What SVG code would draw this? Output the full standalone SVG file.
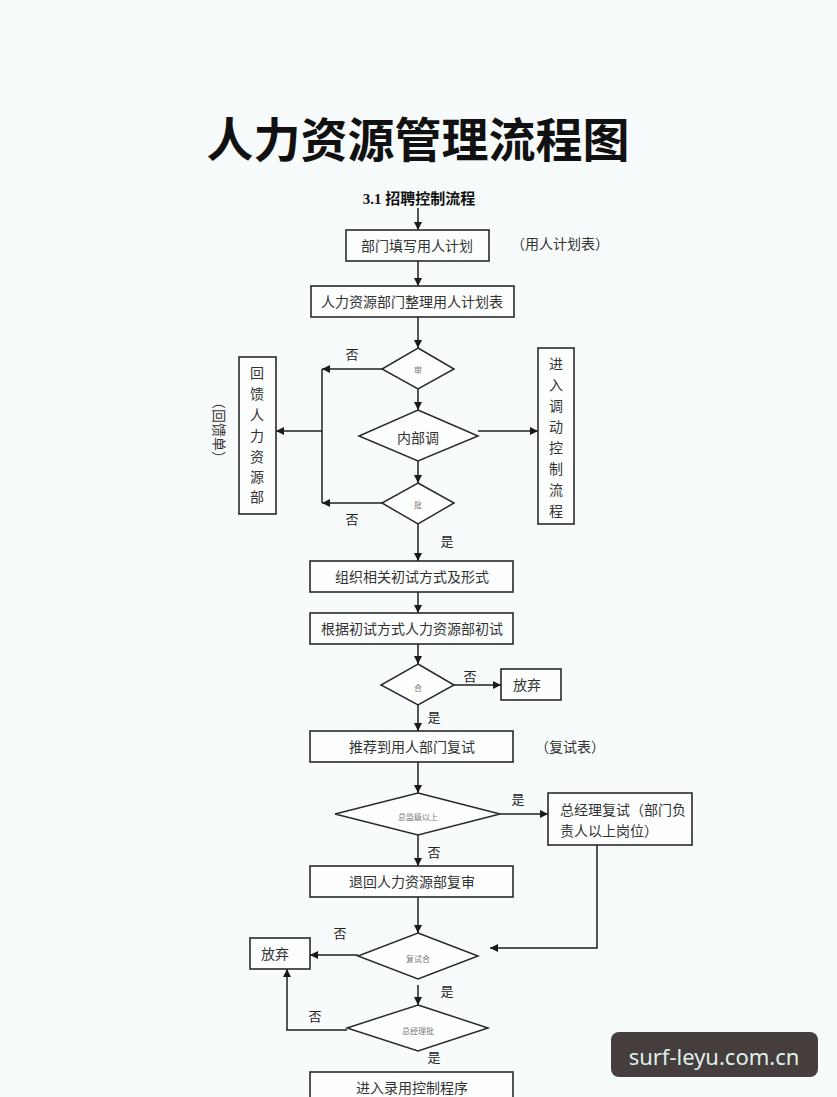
<svg xmlns="http://www.w3.org/2000/svg" width="837" height="1097" viewBox="0 0 837 1097">
<defs>
<marker id="ah" viewBox="0 0 10 10" refX="10" refY="5" markerWidth="8" markerHeight="8" markerUnits="userSpaceOnUse" orient="auto">
<path d="M0,0 L10,5 L0,10 z" fill="#1a1a1a"/>
</marker>
<style>
.bx{fill:#fdfefe;stroke:#2a2a2a;stroke-width:1.6}
.dm{fill:#fdfefe;stroke:#2a2a2a;stroke-width:1.5}
.ln{fill:none;stroke:#1f1f1f;stroke-width:1.5}
.ar{fill:none;stroke:#1f1f1f;stroke-width:1.5;marker-end:url(#ah)}
.t{font-family:"Liberation Serif","Noto Sans CJK SC",serif;font-size:14px;fill:#333;text-anchor:middle;dominant-baseline:central}
.ts{font-family:"Liberation Serif","Noto Sans CJK SC",serif;font-size:14px;fill:#333;text-anchor:start;dominant-baseline:central}
.s{font-family:"Noto Sans CJK SC",sans-serif;font-size:8px;fill:#777;text-anchor:middle;dominant-baseline:central}
.l{font-family:"Noto Sans CJK SC",serif;font-size:13px;fill:#222;text-anchor:middle;dominant-baseline:central}
</style>
</defs>
<rect width="837" height="1097" fill="#f8fbfb"/>
<g id="title">
<text x="418" y="136" font-family="Noto Sans CJK SC, sans-serif" font-weight="bold" font-size="47" fill="#111" text-anchor="middle" dominant-baseline="central">人力资源管理流程图</text>
<text x="419" y="199" font-family="Liberation Serif, Noto Sans CJK SC, serif" font-weight="bold" font-size="15" fill="#111" text-anchor="middle" dominant-baseline="central">3.1 招聘控制流程</text>
</g>
<g id="connectors">
<line class="ar" x1="418" y1="208" x2="418" y2="230"/>
<line class="ar" x1="418" y1="261" x2="418" y2="286"/>
<line class="ar" x1="418" y1="317" x2="418" y2="348"/>
<line class="ar" x1="382" y1="369" x2="322" y2="369"/>
<line class="ln" x1="322" y1="369" x2="322" y2="503"/>
<line class="ar" x1="382" y1="503" x2="322" y2="503"/>
<line class="ar" x1="322" y1="431" x2="276" y2="431"/>
<line class="ar" x1="418" y1="389" x2="418" y2="410"/>
<line class="ar" x1="478" y1="431" x2="538" y2="431"/>
<line class="ar" x1="418" y1="461" x2="418" y2="483"/>
<line class="ar" x1="418" y1="524" x2="418" y2="561"/>
<line class="ar" x1="418" y1="592" x2="418" y2="613"/>
<line class="ar" x1="418" y1="644" x2="418" y2="664"/>
<line class="ar" x1="454" y1="685" x2="501" y2="685"/>
<line class="ar" x1="418" y1="705" x2="418" y2="731"/>
<line class="ar" x1="418" y1="762" x2="418" y2="793"/>
<line class="ar" x1="500" y1="814" x2="548" y2="814"/>
<polyline class="ar" points="597,845 597,948 490,948"/>
<line class="ar" x1="418" y1="835" x2="418" y2="866"/>
<line class="ar" x1="418" y1="897" x2="418" y2="933"/>
<line class="ar" x1="358" y1="955" x2="310" y2="955"/>
<line class="ar" x1="418" y1="985" x2="418" y2="1005"/>
<polyline class="ar" points="347,1030 287,1030 287,969"/>
<text class="l" x="352" y="353">否</text>
<text class="l" x="352" y="518">否</text>
<text class="l" x="447" y="540">是</text>
<text class="l" x="470" y="675">否</text>
<text class="l" x="434" y="716">是</text>
<text class="l" x="518" y="798">是</text>
<text class="l" x="434" y="851">否</text>
<text class="l" x="340" y="932">否</text>
<text class="l" x="447" y="990">是</text>
<text class="l" x="315" y="1015">否</text>
<text class="l" x="434" y="1056">是</text>
</g>
<g id="n1"><rect class="bx" x="346" y="230" width="143" height="31"/><text class="t" x="417" y="246">部门填写用人计划</text></g>
<g id="n1note"><text class="t" x="560" y="244">（用人计划表）</text></g>
<g id="n2"><rect class="bx" x="311" y="286" width="203" height="31"/><text class="t" x="412" y="302">人力资源部门整理用人计划表</text></g>
<g id="d1"><polygon class="dm" points="418,348 454,369 418,389 382,369"/><text class="s" x="418" y="369">审</text></g>
<g id="d2"><polygon class="dm" points="418,410 478,436 418,461 359,436"/><text class="t" x="418" y="438" font-size="12">内部调</text></g>
<g id="d3"><polygon class="dm" points="418,483 454,503 418,524 382,503"/><text class="s" x="418" y="504">批</text></g>
<g id="nfb"><rect class="bx" x="239" y="357" width="37" height="157"/>
<text class="t" x="257" y="373">回</text><text class="t" x="257" y="394">馈</text><text class="t" x="257" y="415">人</text><text class="t" x="257" y="436">力</text><text class="t" x="257" y="457">资</text><text class="t" x="257" y="477">源</text><text class="t" x="257" y="497">部</text></g>
<g id="nfbnote"><text class="t" x="218" y="430" transform="rotate(90 218 430)">（回馈单）</text></g>
<g id="ntr"><rect class="bx" x="538" y="348" width="36" height="176"/>
<text class="t" x="556" y="364">进</text><text class="t" x="556" y="385">入</text><text class="t" x="556" y="406">调</text><text class="t" x="556" y="427">动</text><text class="t" x="556" y="448">控</text><text class="t" x="556" y="469">制</text><text class="t" x="556" y="490">流</text><text class="t" x="556" y="511">程</text></g>
<g id="n3"><rect class="bx" x="310" y="561" width="203" height="31"/><text class="t" x="412" y="577">组织相关初试方式及形式</text></g>
<g id="n4"><rect class="bx" x="310" y="613" width="203" height="31"/><text class="t" x="412" y="629">根据初试方式人力资源部初试</text></g>
<g id="d4"><polygon class="dm" points="418,664 454,685 418,705 381,685"/><text class="s" x="418" y="687">合</text></g>
<g id="ng1"><rect class="bx" x="501" y="669" width="60" height="31"/><text class="t" x="527" y="685">放弃</text></g>
<g id="n5"><rect class="bx" x="310" y="731" width="203" height="31"/><text class="t" x="412" y="747">推荐到用人部门复试</text></g>
<g id="n5note"><text class="t" x="570" y="747">（复试表）</text></g>
<g id="d5"><polygon class="dm" points="418,793 500,814 418,835 335,814"/><text class="s" x="418" y="816">总监级以上</text></g>
<g id="ngm"><rect class="bx" x="548" y="793" width="144" height="52"/>
<text class="ts" x="560" y="810">总经理复试（部门负</text><text class="ts" x="560" y="831">责人以上岗位）</text></g>
<g id="n6"><rect class="bx" x="310" y="866" width="203" height="31"/><text class="t" x="412" y="882">退回人力资源部复审</text></g>
<g id="d6"><polygon class="dm" points="418,933 478,956 418,979 358,956"/><text class="s" x="418" y="958">复试合</text></g>
<g id="ng2"><rect class="bx" x="250" y="938" width="60" height="31"/><text class="t" x="275" y="954">放弃</text></g>
<g id="d7"><polygon class="dm" points="418,1005 488,1028 418,1051 347,1028"/><text class="s" x="418" y="1030">总经理批</text></g>
<g id="n7"><rect class="bx" x="310" y="1072" width="203" height="40"/><text class="t" x="412" y="1088">进入录用控制程序</text></g>
<g id="watermark"><rect x="611" y="1032" width="207" height="45" rx="8" fill="#463d3d"/><text x="714" y="1056" font-family="Noto Sans, sans-serif" font-size="22" fill="#dff0ec" text-anchor="middle" dominant-baseline="central">surf-leyu.com.cn</text></g>
</svg>
